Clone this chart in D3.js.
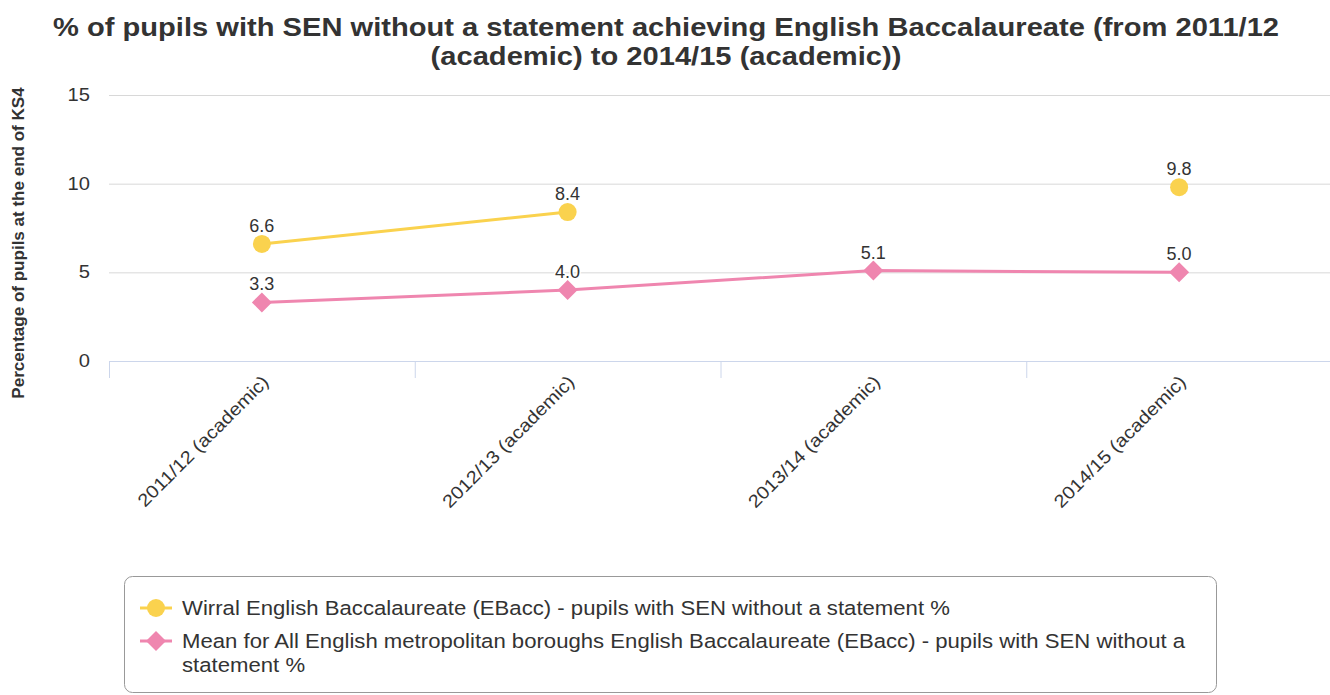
<!DOCTYPE html>
<html>
<head>
<meta charset="utf-8">
<script src="https://cdn.jsdelivr.net/npm/d3@7"></script>
<style>
  html, body { margin: 0; padding: 0; background: #fff; }
  svg { display: block; font-family: "Liberation Sans", Arial, sans-serif; }
</style>
</head>
<body>
<svg id="chart" width="1330" height="695"></svg>
<script>
// Chart data
const categories = ["2011/12 (academic)", "2012/13 (academic)", "2013/14 (academic)", "2014/15 (academic)"];
const wirralValues = [6.6, 8.4, null, 9.8];
const meanValues = [3.3, 4.0, 5.1, 5.0];
const yTicks = [0, 5, 10, 15];
const seriesNames = [
  "Wirral English Baccalaureate (EBacc) - pupils with SEN without a statement %",
  "Mean for All English metropolitan boroughs English Baccalaureate (EBacc) - pupils with SEN without a statement %"
];
const titleLines = [
  "% of pupils with SEN without a statement achieving English Baccalaureate (from 2011/12",
  "(academic) to 2014/15 (academic))"
];
const yAxisTitle = "Percentage of pupils at the end of KS4";

const svg = d3.select("#chart");
const W = 1330;
const plot = { left: 109, right: 1332, top: 95, bottom: 361 };

const x = d3.scaleBand().domain(categories).range([plot.left, plot.right]);
const y = d3.scaleLinear().domain([0, 15]).range([plot.bottom, plot.top]);
const cx = c => x(c) + x.bandwidth() / 2;

// Text is drawn slightly wide, as in the original chart export
const WIDE = 1.12;

// Title
svg.append("g").selectAll("text").data(titleLines).join("text")
  .attr("transform", (d, i) => `translate(${W / 2 + 1},${36 + i * 29}) scale(${WIDE},1)`)
  .attr("text-anchor", "middle")
  .attr("font-size", 26).attr("font-weight", "bold").attr("fill", "#333")
  .text(d => d);

// Gridlines
svg.append("g").selectAll("line").data(yTicks.filter(t => t > 0)).join("line")
  .attr("x1", plot.left).attr("x2", W)
  .attr("y1", d => y(d) + 0.5).attr("y2", d => y(d) + 0.5)
  .attr("stroke", "#d8d8d8").attr("stroke-width", 1);

// Y axis labels
svg.append("g").selectAll("text").data(yTicks).join("text")
  .attr("transform", d => `translate(90,${y(d) + 6}) scale(${WIDE},1)`)
  .attr("text-anchor", "end").attr("font-size", 18).attr("fill", "#333")
  .text(d => d);

// Y axis title
svg.append("text")
  .attr("transform", `translate(24,243) rotate(-90) scale(1.065,1)`)
  .attr("text-anchor", "middle").attr("font-size", 16).attr("font-weight", "bold").attr("fill", "#333")
  .text(yAxisTitle);

// X axis line and ticks
const xAxis = svg.append("g");
xAxis.append("line")
  .attr("x1", plot.left).attr("x2", W)
  .attr("y1", plot.bottom + 0.5).attr("y2", plot.bottom + 0.5)
  .attr("stroke", "#ccd6eb").attr("stroke-width", 1);
xAxis.selectAll("line.tick").data(categories).join("line").attr("class", "tick")
  .attr("x1", d => x(d) + 0.5).attr("x2", d => x(d) + 0.5)
  .attr("y1", plot.bottom).attr("y2", plot.bottom + 17)
  .attr("stroke", "#ccd6eb").attr("stroke-width", 1);
xAxis.selectAll("text").data(categories).join("text")
  .attr("transform", d => `translate(${cx(d) + 8},${plot.bottom + 22}) rotate(-45) scale(${WIDE},1)`)
  .attr("text-anchor", "end").attr("font-size", 18).attr("fill", "#333")
  .text(d => d);

// Series
const series = [
  { name: seriesNames[0], values: wirralValues, color: "#FAD24E", symbol: "circle" },
  { name: seriesNames[1], values: meanValues, color: "#EF86AF", symbol: "diamond" }
];

const line = d3.line()
  .defined(d => d.v != null)
  .x(d => cx(d.c)).y(d => y(d.v));

function drawSymbol(g, type, color, px, py, size) {
  if (type === "circle") {
    g.append("circle").attr("cx", px).attr("cy", py).attr("r", size).attr("fill", color);
  } else {
    const s = size + 1;
    g.append("path")
      .attr("d", `M${px},${py - s}L${px + s},${py}L${px},${py + s}L${px - s},${py}Z`)
      .attr("fill", color);
  }
}

series.forEach(s => {
  const pts = categories.map((c, i) => ({ c, v: s.values[i] }));
  const g = svg.append("g");
  g.append("path").datum(pts)
    .attr("d", line).attr("fill", "none")
    .attr("stroke", s.color).attr("stroke-width", 3).attr("stroke-linejoin", "round");
  pts.filter(p => p.v != null).forEach(p => {
    drawSymbol(g, s.symbol, s.color, cx(p.c), y(p.v), 9);
  });
  g.selectAll("text").data(pts.filter(p => p.v != null)).join("text")
    .attr("x", p => cx(p.c)).attr("y", p => y(p.v) - 12)
    .attr("text-anchor", "middle").attr("font-size", 18).attr("fill", "#333")
    .attr("stroke", "#fff").attr("stroke-width", 3).attr("paint-order", "stroke")
    .attr("stroke-linejoin", "round")
    .text(p => p.v.toFixed(1));
});

// Legend
const legend = svg.append("g");
legend.append("rect")
  .attr("x", 124.5).attr("y", 576.5).attr("width", 1092).attr("height", 116)
  .attr("rx", 8).attr("ry", 8)
  .attr("fill", "#fff").attr("stroke", "#999").attr("stroke-width", 1);

const legendRows = [
  { s: series[0], lines: [seriesNames[0]], y: 608 },
  { s: series[1], lines: ["Mean for All English metropolitan boroughs English Baccalaureate (EBacc) - pupils with SEN without a", "statement %"], y: 641 }
];
legendRows.forEach(r => {
  legend.append("line")
    .attr("x1", 140).attr("x2", 172).attr("y1", r.y).attr("y2", r.y)
    .attr("stroke", r.s.color).attr("stroke-width", 3);
  drawSymbol(legend, r.s.symbol, r.s.color, 156, r.y, 9);
  legend.selectAll(null).data(r.lines).join("text")
    .attr("transform", (d, i) => `translate(182,${r.y + 7 + i * 24}) scale(1.136,1)`)
    .attr("font-size", 19.5).attr("fill", "#333")
    .text(d => d);
});
</script>
</body>
</html>
